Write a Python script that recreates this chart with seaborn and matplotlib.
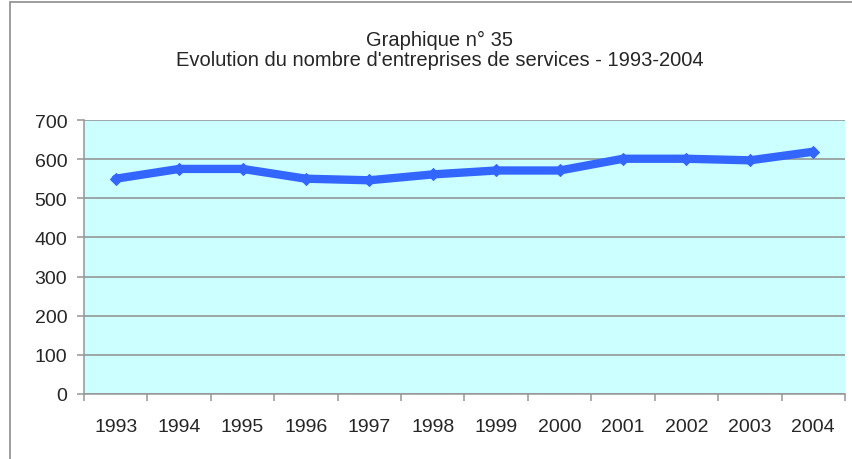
import matplotlib
matplotlib.use("Agg")
import matplotlib.pyplot as plt
import matplotlib.patches as mpatches
import numpy as np
import pandas as pd
import seaborn as sns

# Values
years = ["1993", "1994", "1995", "1996", "1997", "1998",
         "1999", "2000", "2001", "2002", "2003", "2004"]
entreprises = [550, 575, 575, 550, 546, 561, 571, 571, 601, 601, 597, 619]

title_lines = ["Graphique n° 35",
               "Evolution du nombre d'entreprises de services - 1993-2004"]

sns.set_style("white")
plt.rcParams["font.family"] = ["Liberation Sans", "DejaVu Sans"]

df = pd.DataFrame({"pos": np.arange(len(years)), "annee": years,
                   "valeur": entreprises})

fig = plt.figure(figsize=(8.52, 4.60), dpi=100)
ax = fig.add_axes([84 / 852, 65 / 460, 761 / 852, 274 / 460])
ax.set_facecolor("#CCFFFF")

# outer chart frame (left and top edges visible)
fig.patches.append(mpatches.Rectangle(
    (10 / 852, -0.1), 1.0, 1.1 - 3 / 460, transform=fig.transFigure,
    fill=False, edgecolor="#8c8c8c", linewidth=1.2))

sns.lineplot(data=df, x="pos", y="valeur", ax=ax, color="#3366FF",
             linewidth=6, marker="D", markersize=6,
             markeredgecolor="#3366FF", solid_joinstyle="round")

ax.set_xlim(-0.5, len(years) - 0.5)
ax.set_ylim(0, 700)
ax.set_yticks(range(0, 701, 100))
ax.yaxis.grid(True, color="#8f8f8f", linewidth=1.1)
ax.set_axisbelow(True)

ax.set_xticks(df["pos"])
ax.set_xticklabels(years)
ax.set_xticks(np.arange(-0.5, len(years), 1.0), minor=True)
ax.tick_params(axis="x", which="major", length=0, pad=17, labelsize=14)
ax.tick_params(axis="x", which="minor", length=5, width=1.1,
               color="#969696", direction="out", bottom=True)
ax.tick_params(axis="y", length=5, width=1.1, color="#969696",
               direction="out", left=True, pad=7, labelsize=14)

ax.set_xlabel("")
ax.set_ylabel("")
for side in ["top", "right"]:
    ax.spines[side].set_visible(False)
for side in ["left", "bottom"]:
    ax.spines[side].set_color("#969696")
    ax.spines[side].set_linewidth(1.1)

fig.text(440 / 852, 1 - 40 / 460, title_lines[0], ha="center", va="center",
         fontsize=14.5)
fig.text(440 / 852, 1 - 60 / 460, title_lines[1], ha="center", va="center",
         fontsize=14.5)

fig.savefig("out.png", dpi=100)
